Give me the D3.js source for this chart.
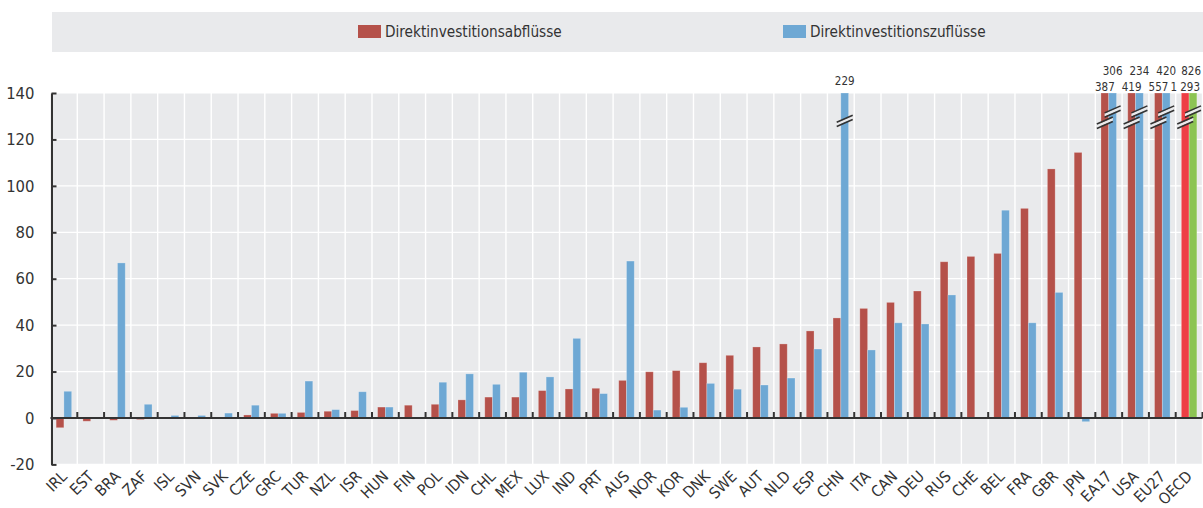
<!DOCTYPE html>
<html>
<head>
<meta charset="utf-8">
<script src="https://cdn.jsdelivr.net/npm/d3@7"></script>
<style>
  body { margin: 0; background: #fff; }
  svg text { font-family: "Liberation Sans Narrow", "Arial Narrow", "DejaVu Sans Condensed", sans-serif; fill: #333; }
</style>
</head>
<body>
<div id="graph"></div>
<script>
// Laender, sortiert nach Abfluessen
const countries = ["IRL","EST","BRA","ZAF","ISL","SVN","SVK","CZE","GRC","TUR","NZL","ISR","HUN","FIN","POL",
  "IDN","CHL","MEX","LUX","IND","PRT","AUS","NOR","KOR","DNK","SWE","AUT","NLD","ESP","CHN","ITA","CAN",
  "DEU","RUS","CHE","BEL","FRA","GBR","JPN","EA17","USA","EU27","OECD"];

// Direktinvestitionsabfluesse (Mrd. USD)
const outflows = [-4.2,-1.4,-1.0,-0.7,0,0,0.3,1.3,2.0,2.4,2.9,3.2,4.7,5.5,5.9,
  7.8,9.0,9.0,11.8,12.5,12.8,16.2,19.9,20.4,23.8,27.0,30.6,31.9,37.5,43.1,47.2,49.8,
  54.7,67.3,69.6,70.9,90.3,107.3,114.4,387,419,557,1293];

// Direktinvestitionszufluesse (Mrd. USD)
const inflows = [11.5,0,66.8,5.9,1.1,1.1,2.1,5.5,2.0,15.9,3.6,11.3,4.7,0,15.4,
  19.0,14.5,19.7,17.7,34.3,10.5,67.6,3.4,4.6,14.9,12.4,14.2,17.2,29.7,229,29.3,41.0,
  40.5,53.0,0,89.5,41.0,54.1,-1.6,306,234,420,826];

const seriesNames = ["Direktinvestitionsabflüsse","Direktinvestitionszuflüsse"];
const yTicks = [-20,0,20,40,60,80,100,120,140];

const colors = ["#b5514a","#6ea8d4"];
const oecdColors = ["#ee3f45","#8cc453"];

var svgWidth = 1203, svgHeight = 508;
var plot = { left: 50.5, right: 1202.5, top: 93, bottom: 464.4 };

var svg = d3.select("#graph").append("svg")
  .attr("width", svgWidth).attr("height", svgHeight);

var data = countries.map((c, i) => ({ name: c, values: [outflows[i], inflows[i]] }));

var x = d3.scaleBand().domain(countries).range([plot.left, plot.right]).padding(0);
var bw = x.bandwidth();
var x1 = d3.scaleBand().domain([0, 1]).range([bw * 0.21, bw * 0.79]).padding(0);
var y = d3.scaleLinear().domain([-20, 140]).range([plot.bottom, plot.top]);
var yMax = 140;

// legend strip
svg.append("rect").attr("x", 52).attr("y", 12).attr("width", svgWidth - 52).attr("height", 40)
  .attr("fill", "#e9eaec");
var legX = [358, 783];
seriesNames.forEach((n, i) => {
  svg.append("rect").attr("x", legX[i]).attr("y", 25).attr("width", 23).attr("height", 13)
    .attr("fill", colors[i]);
  svg.append("text").attr("x", legX[i] + 27).attr("y", 37).attr("font-size", 15.2).text(n);
});

// plot background
svg.append("rect").attr("x", plot.left).attr("y", plot.top)
  .attr("width", plot.right - plot.left).attr("height", plot.bottom - plot.top)
  .attr("fill", "#e9eaec");

// grid
svg.append("g").selectAll("line").data(yTicks.filter(t => t !== 0)).join("line")
  .attr("x1", plot.left).attr("x2", plot.right)
  .attr("y1", d => y(d)).attr("y2", d => y(d))
  .attr("stroke", "#fff").attr("stroke-width", 1.2);
svg.append("g").selectAll("line").data(countries).join("line")
  .attr("x1", d => x(d) + bw).attr("x2", d => x(d) + bw)
  .attr("y1", plot.top).attr("y2", plot.bottom)
  .attr("stroke", "#fff").attr("stroke-width", 1.4);

// bars
var groups = svg.append("g").selectAll("g").data(data).join("g")
  .attr("transform", d => `translate(${x(d.name)},0)`);

groups.selectAll("rect").data(d => d.values.map((v, k) => ({ v: v, k: k, name: d.name }))).join("rect")
  .attr("x", d => x1(d.k))
  .attr("width", x1.bandwidth())
  .attr("y", d => y(Math.min(Math.max(d.v, 0), yMax)))
  .attr("height", d => Math.abs(y(Math.min(d.v, yMax)) - y(0)))
  .attr("fill", d => d.name === "OECD" ? oecdColors[d.k] : colors[d.k])
  .attr("stroke", "rgba(255,255,255,0.3)").attr("stroke-width", 0.8);

// break marks on clipped bars
var broken = [];
data.forEach(d => {
  var nb = d.values.filter(v => v > yMax).length;
  d.values.forEach((v, k) => {
    if (v > yMax) broken.push({ name: d.name, k: k, v: v, single: nb === 1 });
  });
});

var fmt = d3.formatLocale({ decimal: ",", thousands: " ", grouping: [3], currency: ["", ""] }).format(",d");

broken.forEach(b => {
  var cx = x(b.name) + x1(b.k) + x1.bandwidth() / 2;
  var cy = b.single ? y(128) : (b.k === 0 ? y(127.2) : y(132));
  var g = svg.append("g").attr("transform", `translate(${cx},${cy})`);
  g.append("path").attr("d", "M-8,3.5 L8,-3.5 L8,-0.5 L-8,6.5 Z").attr("fill", "#e9eaec")
    .attr("transform", "translate(0,-1.5)");
  [-2.2, 2.2].forEach(o => {
    g.append("line").attr("x1", -8).attr("y1", 3.5 + o).attr("x2", 8).attr("y2", -3.5 + o)
      .attr("stroke", "#333").attr("stroke-width", 1.6);
  });
  var ly = b.single ? 85 : (b.k === 0 ? 90.5 : 75);
  var t = svg.append("text").attr("x", cx).attr("y", ly).attr("text-anchor", "middle")
    .attr("font-size", 11.5).text(fmt(b.v));
  // keep the label inside the picture
  var w = t.node().getComputedTextLength();
  if (cx + w / 2 > svgWidth - 2) t.attr("x", svgWidth - 2 - w / 2);
});

// y axis
var leftAxis = d3.axisLeft(y).tickValues(yTicks).tickFormat(d => String(d))
  .tickSizeInner(-5).tickSizeOuter(0).tickPadding(17);
var ya = svg.append("g").attr("transform", `translate(51.5,0)`).call(leftAxis);
ya.select(".domain").attr("stroke", "#333").attr("stroke-width", 2);
ya.selectAll(".tick line").attr("stroke", "#333").attr("stroke-width", 2);
ya.selectAll(".tick text").attr("font-size", 16.5).attr("font-family", null).attr("fill", "#333");

// x axis at zero
svg.append("line").attr("x1", plot.left).attr("x2", plot.right)
  .attr("y1", y(0)).attr("y2", y(0)).attr("stroke", "#333").attr("stroke-width", 2.2);
svg.append("g").selectAll("line").data(countries).join("line")
  .attr("x1", d => x(d) + bw).attr("x2", d => x(d) + bw)
  .attr("y1", y(0)).attr("y2", y(0) - 6)
  .attr("stroke", "#333").attr("stroke-width", 2);

// category labels
svg.append("g").selectAll("text").data(countries).join("text")
  .attr("text-anchor", "end")
  .attr("font-size", 15.5)
  .attr("transform", d => `translate(${x(d) + bw / 2 + 4},${plot.bottom + 13}) rotate(-45)`)
  .text(d => d);
</script>
</body>
</html>
